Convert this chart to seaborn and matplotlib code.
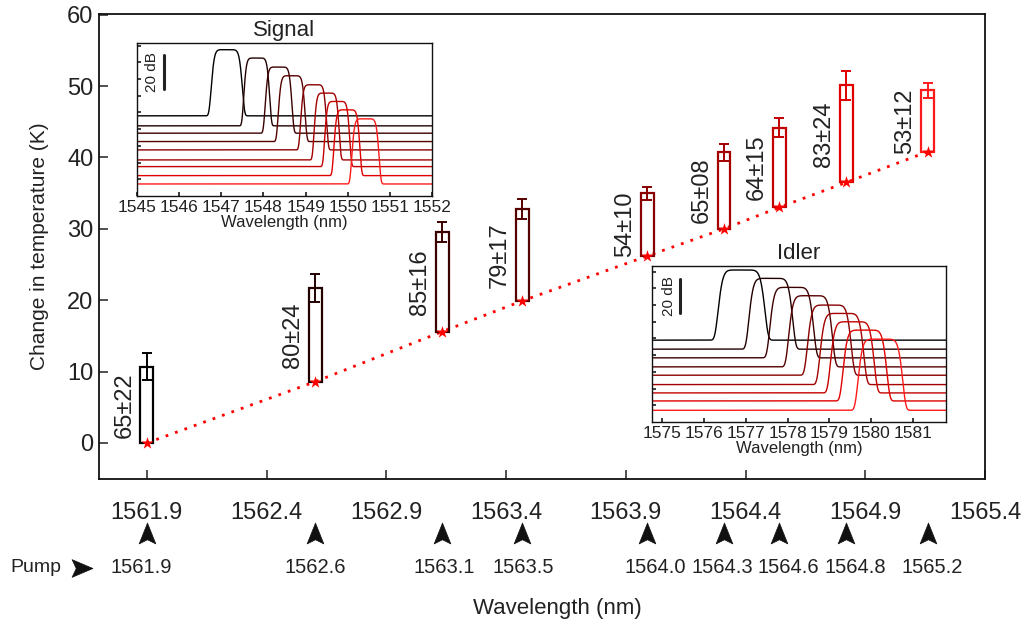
import numpy as np
import pandas as pd
import matplotlib
matplotlib.use("Agg")
import matplotlib.pyplot as plt
import seaborn as sns
from matplotlib.path import Path
from matplotlib import transforms

# ---------------- data ----------------
pump_wl = [1561.9, 1562.604, 1563.133, 1563.467, 1563.99, 1564.31, 1564.54, 1564.82, 1565.16]
pump_labels = ["1561.9", "1562.6", "1563.1", "1563.5", "1564.0", "1564.3", "1564.6", "1564.8", "1565.2"]
dT_low = [0.0, 8.6, 15.6, 19.9, 26.2, 30.0, 33.0, 36.5, 40.8]
dT_high = [10.7, 21.7, 29.5, 32.8, 35.0, 40.7, 44.2, 50.1, 49.4]
dT_err = [1.9, 2.0, 1.4, 1.4, 0.9, 1.2, 1.4, 2.0, 1.1]
bar_labels = ["65±22", "80±24", "85±16", "79±17", "54±10", "65±08", "64±15", "83±24", "53±12"]
series_colors = ["#000000", "#220000", "#3c0000", "#560000", "#880000",
                 "#a40000", "#c40000", "#e00000", "#ff1a1a"]
main_xticks = [1561.9, 1562.4, 1562.9, 1563.4, 1563.9, 1564.4, 1564.9, 1565.4]
main_yticks = [0, 10, 20, 30, 40, 50, 60]

# signal spectra (centre nm, FWHM nm, baseline dB, peak dB)
sig_center = [1547.13, 1547.84, 1548.36, 1548.67, 1549.19, 1549.50, 1549.75, 1549.98, 1550.42]
sig_fwhm = [0.72, 0.60, 0.62, 0.62, 0.60, 0.58, 0.58, 0.60, 0.63]
sig_base = [48.0, 42.0, 37.6, 32.6, 27.6, 21.6, 17.6, 12.2, 7.2]
sig_peak = [87.6, 82.6, 77.2, 72.0, 66.6, 61.6, 56.6, 51.6, 46.2]
sig_xticks = [1545, 1546, 1547, 1548, 1549, 1550, 1551, 1552]

# idler spectra
idl_center = [1576.90, 1577.60, 1578.10, 1578.55, 1579.00, 1579.30, 1579.55, 1579.85, 1580.22]
idl_fwhm = [1.09, 1.02, 1.02, 1.02, 1.02, 1.02, 1.02, 1.02, 1.04]
idl_base = [49.0, 43.6, 38.4, 33.0, 28.0, 22.4, 17.4, 12.6, 7.0]
idl_peak = [91.0, 86.0, 80.6, 75.6, 70.0, 65.0, 60.0, 55.0, 49.6]
idl_xticks = [1575, 1576, 1577, 1578, 1579, 1580, 1581]

# layout: horizontal nudge (pixels) of each pump label relative to its arrow
pump_label_nudge = [-6, 0, 2, 1, 8, -2, 9, 9, 5]

# ---------------- style ----------------
sns.set_theme(style="ticks")
plt.rcParams["font.family"] = ["Liberation Sans", "DejaVu Sans"]
plt.rcParams["axes.linewidth"] = 1.3

fig = plt.figure(figsize=(10.34, 6.26), dpi=100)
ax = fig.add_axes([0.0957, 0.2348, 0.8569, 0.7428])

# bars (range of temperature change)
widths = 0.054
heights = [h - l for h, l in zip(dT_high, dT_low)]
ax.bar(pump_wl, heights, bottom=dT_low, width=widths, facecolor="none",
       edgecolor=series_colors, linewidth=1.6, zorder=3)
for x, top, e, c in zip(pump_wl, dT_high, dT_err, series_colors):
    ax.errorbar([x], [top], yerr=[e], fmt="none", ecolor=c, elinewidth=1.4,
                capsize=3.5, capthick=1.4, zorder=4)

# dotted red trend through the minimum points
ax.plot(pump_wl, dT_low, color="#ff0000", linewidth=2.0, dashes=(1, 2.6),
        zorder=2)
sns.scatterplot(x=pump_wl, y=dT_low, ax=ax, color="#ff0000", marker="*",
                s=85, linewidth=0, zorder=5, legend=False)

# rotated labels
for x, lo, hi, lab in zip(pump_wl, dT_low, dT_high, bar_labels):
    ax.annotate(lab, xy=(x, (lo + hi) / 2), xytext=(-16, 0),
                textcoords="offset points", rotation=90, ha="center",
                va="center", fontsize=17, color="#222222")

ax.set_xlim(1561.7, 1565.4)
ax.set_ylim(-5.05, 60.1)
ax.set_xticks(main_xticks)
ax.set_xticklabels([f"{v:.1f}" for v in main_xticks])
ax.set_yticks(main_yticks)
ax.tick_params(axis="both", direction="in", length=6.5, width=1.1,
               labelsize=17, colors="#222222")
ax.tick_params(axis="x", pad=16.5)
ax.tick_params(axis="y", pad=4)
ax.set_ylabel("Change in temperature (K)", fontsize=15, labelpad=13,
              color="#222222")
for s in ax.spines.values():
    s.set_color("#111111")

# pump arrows and labels below axis
blend = transforms.blended_transform_factory(ax.transData, fig.transFigure)
up_arrow = Path([(0, 1), (0.8, -1), (0, -0.6), (-0.8, -1), (0, 1)],
                [Path.MOVETO, Path.LINETO, Path.LINETO, Path.LINETO, Path.CLOSEPOLY])
ax.plot(pump_wl, [0.1478] * len(pump_wl), linestyle="none", marker=up_arrow,
        markersize=15, color="#111111", markeredgewidth=0.5,
        transform=blend, clip_on=False)
for x, lab, dx in zip(pump_wl, pump_labels, pump_label_nudge):
    tr = blend + transforms.ScaledTranslation(dx / 100, 0, fig.dpi_scale_trans)
    ax.text(x, 0.0942, lab, transform=tr, ha="center", va="center",
            fontsize=14.5, color="#222222", clip_on=False)

right_arrow = Path([(1, 0), (-1, 0.85), (-0.6, 0), (-1, -0.85), (1, 0)],
                   [Path.MOVETO, Path.LINETO, Path.LINETO, Path.LINETO, Path.CLOSEPOLY])
fig.text(0.0348, 0.0927, "Pump", ha="center", va="center", fontsize=14,
         color="#222222")
fig.lines.append(plt.Line2D([0.0793], [0.0927], transform=fig.transFigure,
                            marker=right_arrow, markersize=15, color="#111111",
                            markeredgewidth=0.5, linestyle="none"))
fig.text(0.5387, 0.0272, "Wavelength (nm)", ha="center", va="center",
         fontsize=16, color="#222222")


# ---------------- insets ----------------
def flat_top(x, c, fwhm, base, peak, order=8):
    w = fwhm / 2 / (np.log(2)) ** (1 / order)
    return base + (peak - base) * np.exp(-np.abs((x - c) / w) ** order)


def draw_inset(rect, xlim, ylim, centers, fwhms, bases, peaks, xticks, title, bar_x, txt_x):
    iax = fig.add_axes(rect)
    grid = np.linspace(xlim[0], xlim[1], 1400)
    rows = []
    for i, (c, f, b, p) in enumerate(zip(centers, fwhms, bases, peaks)):
        yv = flat_top(grid, c, f, b, p)
        rows.append(pd.DataFrame({"wl": grid, "dB": yv, "k": i}))
    df = pd.concat(rows, ignore_index=True)
    sns.lineplot(data=df, x="wl", y="dB", hue="k", palette=series_colors,
                 ax=iax, legend=False, linewidth=1.0, estimator=None, sort=False)
    iax.set_xlim(*xlim)
    iax.set_ylim(*ylim)
    iax.set_xticks(xticks)
    iax.set_yticks([10, 20, 30, 40, 50, 60, 70, 80, 90])
    iax.tick_params(axis="x", direction="in", length=3, labelsize=12.5,
                    pad=3, colors="#222222")
    iax.tick_params(axis="y", direction="in", length=3, labelleft=False)
    iax.set_xlabel("Wavelength (nm)", fontsize=12, labelpad=0, color="#222222")
    iax.set_ylabel("")
    iax.set_title(title, fontsize=16, pad=5, color="#222222")
    for s in iax.spines.values():
        s.set_linewidth(1.0)
        s.set_color("#111111")
    # 20 dB scale bar
    y0 = ylim[0] + 0.70 * (ylim[1] - ylim[0])
    bt = transforms.blended_transform_factory(iax.transAxes, iax.transData)
    iax.plot([bar_x, bar_x], [y0, y0 + 20], color="#222222", linewidth=2.2,
             transform=bt)
    iax.text(txt_x, y0 + 10, "20 dB", rotation=90, ha="center", va="center",
             fontsize=11, color="#222222", transform=bt)
    return iax


draw_inset([0.1325, 0.6869, 0.2853, 0.2444], (1545, 1552), (0, 91.6),
           sig_center, sig_fwhm, sig_base, sig_peak, sig_xticks, "Signal", 0.092, 0.05)
draw_inset([0.6306, 0.3259, 0.2843, 0.2492], (1574.76, 1581.79), (0, 93.4),
           idl_center, idl_fwhm, idl_base, idl_peak, idl_xticks, "Idler", 0.095, 0.058)

fig.savefig("out.png", dpi=100)
